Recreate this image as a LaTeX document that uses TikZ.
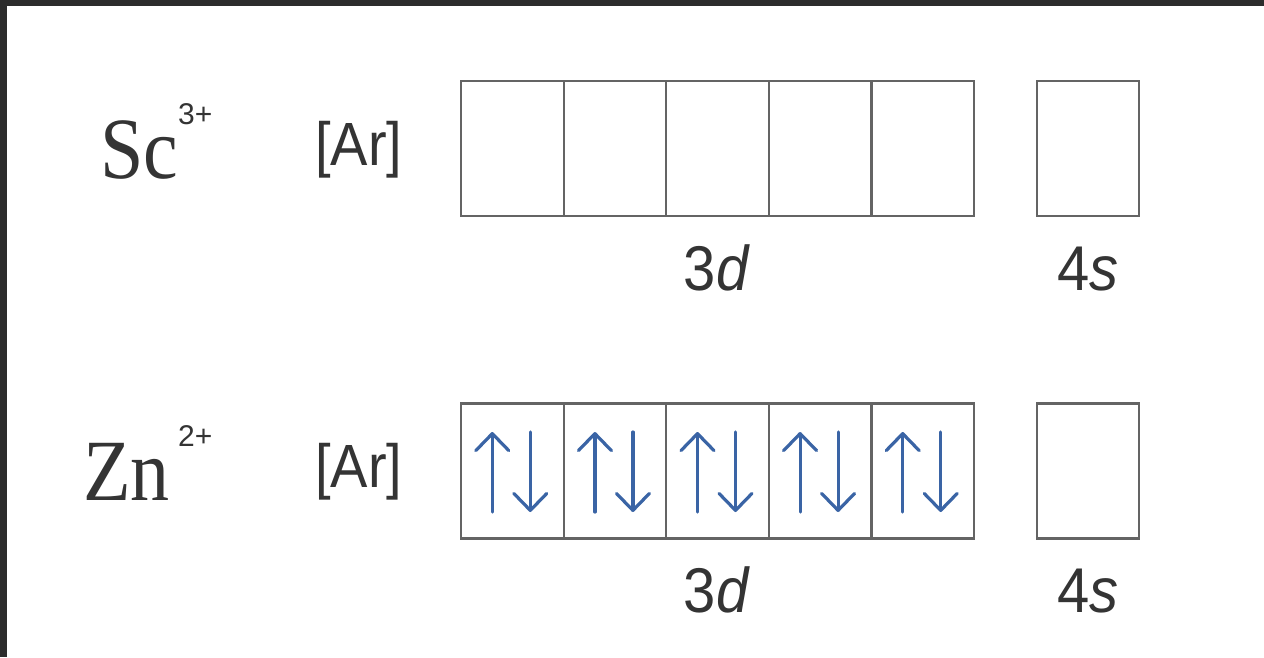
\documentclass[tikz,border=0pt]{standalone}
\usepackage{fontspec}
\usepackage{graphicx}
\setmainfont{Liberation Serif}
\newfontfamily\arialf{Liberation Sans}
\usetikzlibrary{arrows.meta,calc}
\definecolor{framec}{RGB}{44,44,44}
\definecolor{boxc}{RGB}{100,100,100}
\definecolor{spinc}{RGB}{58,100,165}
\definecolor{txtc}{RGB}{52,52,52}
\begin{document}
\begin{tikzpicture}[x=1pt,y=-1pt,
  cell/.style={draw=boxc, line width=2.2pt, minimum width=102.6pt, minimum height=135pt, inner sep=0pt, outer sep=0pt},
  scell/.style={draw=boxc, line width=2.2pt, minimum width=102pt, minimum height=135pt, inner sep=0pt, outer sep=0pt},
  elem/.style={anchor=base west, inner sep=0pt, text=txtc, font=\fontsize{78}{80}\selectfont},
  supl/.style={anchor=base west, inner sep=0pt, text=txtc, font=\arialf\fontsize{30}{32}\selectfont},
  arl/.style={anchor=base west, inner sep=0pt, text=txtc, font=\arialf\fontsize{56}{60}\selectfont},
  orb/.style={anchor=base, inner sep=0pt, text=txtc, font=\arialf\fontsize{58}{60}\selectfont},
  spin/.style={draw=spinc, line width=3.2pt, line cap=round, -{Straight Barb[length=17pt, width=33pt, line width=3.2pt, round]}}
]
\useasboundingbox (0,0) rectangle (1264,657);
\fill[framec] (0,0) rectangle (1264,657);
\fill[white] (7,6) rectangle (1264,657);

% labels
\node[elem] (sc) at (100,178) {\scalebox{1}[1.12]{Sc}};
\node[supl] (scq) at (178,124) {3+};
\node[arl] (ar1) at (315,165) {\scalebox{1}[1.09]{[Ar]}};
\node[elem] (zn) at (83,500) {\scalebox{1}[1.12]{Zn}};
\node[supl] (znq) at (178,446) {2+};
\node[arl] (ar2) at (315,487) {\scalebox{1}[1.09]{[Ar]}};

% boxes
\foreach \i in {0,...,4} {
  \node[cell] (s\i) at ({461+51.3+\i*102.6},148.5) {};
  \node[cell] (z\i) at ({461+51.3+\i*102.6},471) {};
}
\node[scell] (s4s) at (1088,148.5) {};
\node[scell] (z4s) at (1088,471) {};

% spins
\foreach \i in {0,...,4} {
  \draw[spin] ($(z\i.center)+(-20,41)$) -- ($(z\i.center)+(-20,-39)$);
  \draw[spin] ($(z\i.center)+(18,-39)$) -- ($(z\i.center)+(18,41)$);
}

% orbital labels
\node[orb] (d1) at (717,290) {\scalebox{1}[1.09]{3\textit{d}}};
\node[orb] (s1) at (1088,290) {\scalebox{1}[1.09]{4\textit{s}}};
\node[orb] (d2) at (717,612) {\scalebox{1}[1.09]{3\textit{d}}};
\node[orb] (s2) at (1088,612) {\scalebox{1}[1.09]{4\textit{s}}};
\end{tikzpicture}
\end{document}
